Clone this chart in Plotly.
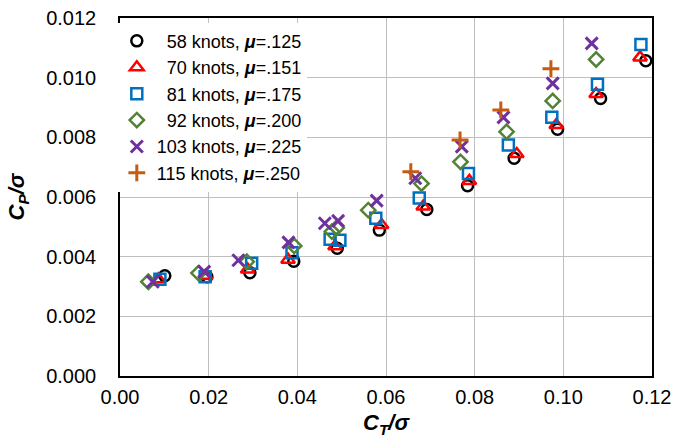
import plotly.graph_objects as go

# Normalised thrust and power coefficients for each airspeed sweep
ct_58 = [0.0101, 0.0196, 0.0293, 0.0392, 0.0490, 0.0585, 0.0692, 0.0784, 0.0889, 0.0987, 0.1084, 0.1186]
cp_58 = [0.00336, 0.00333, 0.00346, 0.00385, 0.00428, 0.00489, 0.00558, 0.00638, 0.00730, 0.00827, 0.00930, 0.01057]

ct_70 = [0.0087, 0.0193, 0.0288, 0.0379, 0.0485, 0.0590, 0.0684, 0.0788, 0.0895, 0.0984, 0.1074, 0.1173]
cp_70 = [0.00324, 0.00336, 0.00357, 0.00390, 0.00435, 0.00506, 0.00568, 0.00654, 0.00744, 0.00841, 0.00945, 0.01068]

ct_81 = [0.0090, 0.0192, 0.0297, 0.0388, 0.0474, 0.0496, 0.0577, 0.0675, 0.0786, 0.0876, 0.0974, 0.1077, 0.1175]
cp_81 = [0.00324, 0.00333, 0.00378, 0.00413, 0.00458, 0.00455, 0.00529, 0.00597, 0.00679, 0.00774, 0.00867, 0.00978, 0.01111]

ct_92 = [0.0064, 0.0177, 0.0286, 0.0393, 0.0478, 0.0489, 0.0560, 0.0680, 0.0768, 0.0872, 0.0976, 0.1074]
cp_92 = [0.00316, 0.00345, 0.00383, 0.00436, 0.00484, 0.00497, 0.00556, 0.00645, 0.00718, 0.00819, 0.00922, 0.01061]

ct_103 = [0.0074, 0.0190, 0.0267, 0.0380, 0.0462, 0.0492, 0.0579, 0.0666, 0.0771, 0.0865, 0.0976, 0.1064]
cp_103 = [0.00316, 0.00350, 0.00388, 0.00448, 0.00512, 0.00520, 0.00588, 0.00663, 0.00769, 0.00867, 0.00981, 0.01115]

ct_115 = [0.0656, 0.0767, 0.0859, 0.0972]
cp_115 = [0.00685, 0.00791, 0.00892, 0.01030]

speeds = ["58", "70", "81", "92", "103", "115"]
advance_ratios = [".125", ".151", ".175", ".200", ".225", ".250"]

series = [
    (ct_58, cp_58, "circle-open", "#000000", 11, 2.5),
    (ct_70, cp_70, "triangle-up-open", "#FF0000", 12, 2.5),
    (ct_81, cp_81, "square-open", "#0070C0", 11, 2.5),
    (ct_92, cp_92, "diamond-open", "#548235", 11, 2.5),
    (ct_103, cp_103, "x-thin-open", "#7030A0", 12, 3),
    (ct_115, cp_115, "cross-thin-open", "#C55A11", 12, 3),
]

fig = go.Figure()
for (xs, ys, symbol, color, size, lw), spd, mu in zip(series, speeds, advance_ratios):
    pad = "\u00a0\u00a0" if len(spd) == 2 else ""
    fig.add_trace(go.Scatter(
        x=xs, y=ys, mode="markers",
        name=f"{pad}{spd} knots, <b><i>\u03bc</i></b>=" + mu,
        marker=dict(symbol=symbol, size=size, color=color,
                    line=dict(color=color, width=lw)),
    ))

font_family = "Liberation Sans, Arial, sans-serif"
fig.update_layout(
    width=686, height=438,
    margin=dict(l=120, r=34, t=18, b=62),
    plot_bgcolor="white", paper_bgcolor="white",
    font=dict(family=font_family, color="#000000"),
    showlegend=True,
    legend=dict(x=-0.006, y=0.987, xanchor="left", yanchor="top",
                bgcolor="white", borderwidth=0,
                font=dict(size=18, family=font_family, color="#000000"),
                itemwidth=30),
)
fig.update_xaxes(
    range=[0, 0.12], dtick=0.02, tick0=0, tickformat=".2f",
    showgrid=True, gridcolor="#BFBFBF", gridwidth=1.3,
    showline=True, linecolor="#000000", linewidth=1.5, mirror=True,
    zeroline=False, ticks="", tickfont=dict(size=20),
    ticklabelstandoff=2, automargin=False,
    title=dict(text="<b><i>C<sub>T</sub>/\u03c3</i></b>", font=dict(size=22)),
)
fig.update_yaxes(
    range=[0, 0.012], dtick=0.002, tick0=0, tickformat=".3f",
    showgrid=True, gridcolor="#BFBFBF", gridwidth=1.3,
    showline=True, linecolor="#000000", linewidth=1.5, mirror=True,
    zeroline=False, ticks="", tickfont=dict(size=20),
    ticklabelstandoff=18, automargin=False,
    title=dict(text="<b><i>C<sub>P</sub>/\u03c3</i></b>", font=dict(size=22)),
)

fig.write_html("out.html")
